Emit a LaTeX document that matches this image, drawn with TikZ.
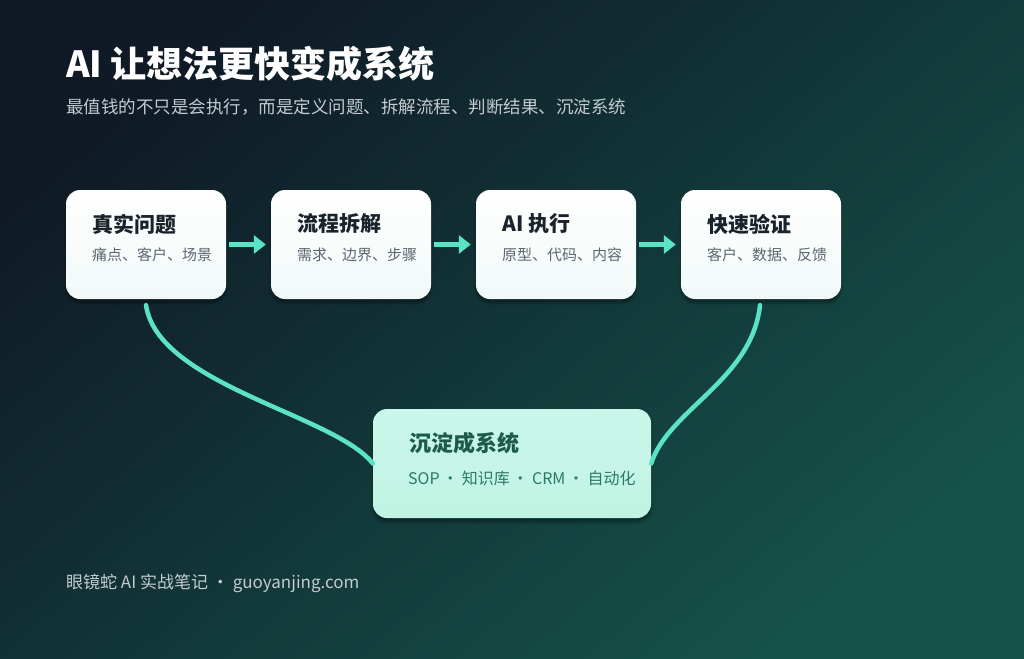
\documentclass[tikz,border=0pt]{standalone}
\usepackage{fontspec}
\setmainfont{Noto Sans CJK SC}
\usepackage{xcolor}
\usetikzlibrary{arrows.meta, positioning, calc, shadows.blur}

\definecolor{bgtop}{HTML}{0F1A26}
\definecolor{bgbot}{HTML}{155249}
\definecolor{mint}{HTML}{5CE3C6}
\definecolor{boxend}{HTML}{F1F9F8}
\definecolor{sysfill}{HTML}{CAF7EA}
\definecolor{sysend}{HTML}{C0F3E3}
\definecolor{headtxt}{HTML}{1A222C}
\definecolor{subtxt}{HTML}{5E6670}
\definecolor{systitle}{HTML}{1D5A4B}
\definecolor{syssub}{HTML}{2B7A66}
\definecolor{lighttxt}{HTML}{C3CBCF}

\begin{document}
\begin{tikzpicture}[
  x=1pt, y=-1pt,
  card/.style={
    rounded corners=14pt,
    minimum width=160pt, minimum height=109pt,
    top color=white, bottom color=boxend,
    blur shadow={shadow blur steps=6, shadow xshift=0pt, shadow yshift=-4pt, shadow opacity=35}
  },
  syscard/.style={
    card, minimum width=278pt,
    top color=sysfill, bottom color=sysend
  },
  cardtitle/.style={anchor=west, inner sep=0pt, text=headtxt, font=\bfseries\fontsize{21}{24}\selectfont},
  cardsub/.style={anchor=west, inner sep=0pt, text=subtxt, font=\fontsize{15}{18}\selectfont},
  arr/.style={-{Triangle[length=12pt,width=18pt]}, line width=5.5pt, draw=mint, shorten <=3pt, shorten >=5pt},
  link/.style={line width=4.5pt, draw=mint, line cap=round},
]
%% Background
\useasboundingbox (0,0) rectangle (1024,658);
\shade[shading=axis, top color=bgtop, bottom color=bgbot, shading angle=40] (0,0) rectangle (1024,658);

%% Heading
\node[anchor=west, inner sep=0pt, text=white, font=\bfseries\fontsize{36}{40}\selectfont]
    (title) at (66,64) {AI 让想法更快变成系统};
\node[anchor=west, inner sep=0pt, text=lighttxt, font=\fontsize{17.5}{21}\selectfont]
    (subtitle) at (66,107) {最值钱的不只是会执行，而是定义问题、拆解流程、判断结果、沉淀系统};

%% Row 1 — steps (x spacing = 205)
\node[card] (problem)   at (146,244.5) {};
\node[card] (breakdown) at (351,244.5) {};
\node[card] (execute)   at (556,244.5) {};
\node[card] (verify)    at (761,244.5) {};

\node[cardtitle] (problemT)   at (92,224)  {真实问题};
\node[cardsub]   (problemS)   at (92,255)  {痛点、客户、场景};
\node[cardtitle] (breakdownT) at (297,224) {流程拆解};
\node[cardsub]   (breakdownS) at (297,255) {需求、边界、步骤};
\node[cardtitle] (executeT)   at (502,224) {AI 执行};
\node[cardsub]   (executeS)   at (502,255) {原型、代码、内容};
\node[cardtitle] (verifyT)    at (707,224) {快速验证};
\node[cardsub]   (verifyS)    at (707,255) {客户、数据、反馈};

%% Row 2 — result
\node[syscard] (system) at (512,463.5) {};
\node[cardtitle, text=systitle, font=\bfseries\fontsize{22}{26}\selectfont]
    (systemT) at (409,443) {沉淀成系统};
\node[cardsub, text=syssub, font=\fontsize{16}{19}\selectfont]
    (systemS) at (408,478) {SOP\kern-1pt{} · 知识库\kern-1pt{} · CRM\kern-1pt{} · 自动化};

%% Arrows between steps
\draw[arr] (problem)   -- (breakdown);
\draw[arr] (breakdown) -- (execute);
\draw[arr] (execute)   -- (verify);

%% Curves into the result
\coordinate (leftstart)  at ($(problem.south)+(0,6)$);
\coordinate (rightstart) at ($(verify.south)+(-1,6)$);
\draw[link] (leftstart) .. controls (158,385) and (335,415) .. (system.west);
\draw[link] (rightstart) .. controls (752,380) and (668,410) .. (system.east);

%% Footer
\node[anchor=west, inner sep=0pt, text=lighttxt, font=\fontsize{17}{20}\selectfont]
    (footer) at (66,583) {眼镜蛇 AI 实战笔记 · guoyanjing.com};
\end{tikzpicture}
\end{document}
